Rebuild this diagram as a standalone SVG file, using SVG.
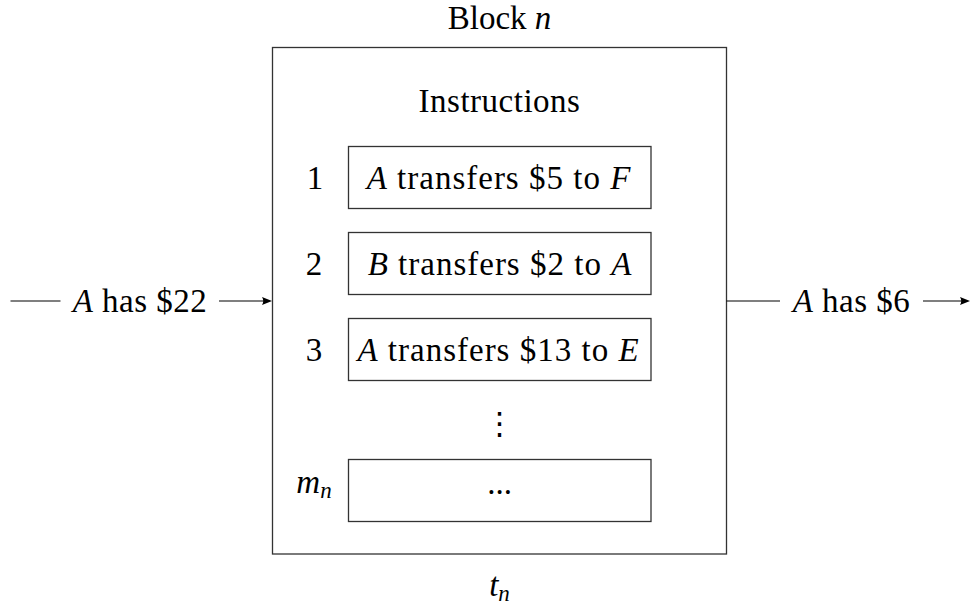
<svg xmlns="http://www.w3.org/2000/svg" width="971" height="607" viewBox="0 0 971 607" font-family="Liberation Serif">
<style>
text{font-family:'Liberation Serif',serif;font-size:33px;fill:#000}
.it{font-style:italic}
.sub{font-size:23px;font-style:italic}
.wide{letter-spacing:1px}
.box{fill:#fff;stroke:#333;stroke-width:1.3}
.conn{stroke:#000;stroke-width:1.2;fill:none}
.head{fill:#000;stroke:none}
</style>
<rect width="971" height="607" fill="#fff"/>
<g id="block">
<rect class="box" x="272.5" y="47.5" width="454" height="506.5"/>
<text x="499.5" y="29" text-anchor="middle">Block <tspan class="it">n</tspan></text>
<text x="499.5" y="112" text-anchor="middle" style="letter-spacing:0.5px">Instructions</text>
<text x="499.5" y="596" text-anchor="middle" class="it">t<tspan class="sub" dy="5">n</tspan></text>
</g>
<g id="instr1">
<text x="315" y="189" text-anchor="middle">1</text>
<rect class="box" x="348.5" y="146.5" width="302.5" height="62"/>
<text class="wide" x="499" y="189" text-anchor="middle"><tspan class="it">A</tspan> transfers &#36;5 to <tspan class="it">F</tspan></text>
</g>
<g id="instr2">
<text x="314" y="275" text-anchor="middle">2</text>
<rect class="box" x="348.5" y="232.5" width="302.5" height="62"/>
<text class="wide" x="500" y="275" text-anchor="middle"><tspan class="it">B</tspan> transfers &#36;2 to <tspan class="it">A</tspan></text>
</g>
<g id="instr3">
<text x="314" y="361" text-anchor="middle">3</text>
<rect class="box" x="348.5" y="318.5" width="302.5" height="62"/>
<text class="wide" x="498.5" y="361" text-anchor="middle"><tspan class="it">A</tspan> transfers &#36;13 to <tspan class="it">E</tspan></text>
</g>
<g id="vdots">
<text x="499.5" y="434" text-anchor="middle" style="font-family:'DejaVu Sans',sans-serif;font-size:31px">&#8942;</text>
</g>
<g id="instrm">
<text x="314" y="493" text-anchor="middle" class="it">m<tspan class="sub" dy="5">n</tspan></text>
<rect class="box" x="348.5" y="459.5" width="302.5" height="62"/>
<text x="499.5" y="494" text-anchor="middle">...</text>
</g>
<g id="labels">
<text x="140" y="312" text-anchor="middle" style="letter-spacing:0.5px"><tspan class="it">A</tspan> has &#36;22</text>
<text x="851.5" y="312" text-anchor="middle" style="letter-spacing:0.5px"><tspan class="it">A</tspan> has &#36;6</text>
</g>
<g id="connectors">
<line class="conn" x1="10.5" y1="301" x2="60.5" y2="301"/>
<line class="conn" x1="219" y1="301" x2="264" y2="301"/>
<path class="head" d="M262,297 L272,301 L262,305 Q264.5,301 262,297 z"/>
<line class="conn" x1="726.5" y1="301" x2="780" y2="301"/>
<line class="conn" x1="923" y1="301" x2="962" y2="301"/>
<path class="head" d="M960,297 L970,301 L960,305 Q962.5,301 960,297 z"/>
</g>
</svg>
